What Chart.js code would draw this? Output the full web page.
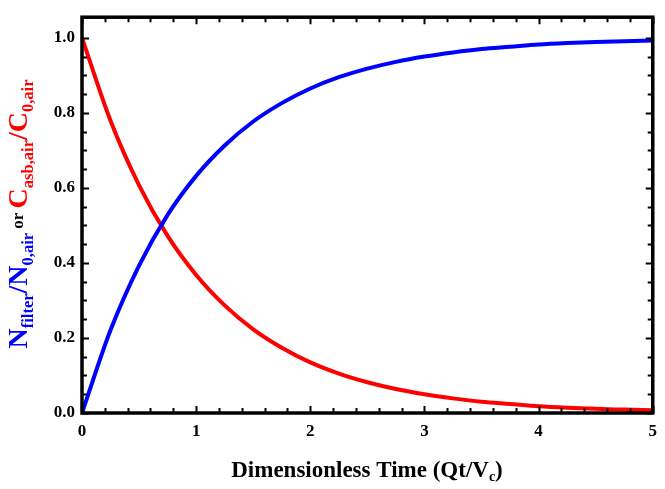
<!DOCTYPE html>
<html>
<head>
<meta charset="utf-8">
<script src="https://cdn.jsdelivr.net/npm/chart.js@4/dist/chart.umd.min.js"></script>
<style>
  html, body { margin: 0; padding: 0; background: #fff; }
  #wrap { width: 665px; height: 489px; }
</style>
</head>
<body>
<div id="wrap"><canvas id="chart" width="665" height="489"></canvas></div>
<script>
// time values (Qt/Vc)
const times = [0, 0.25, 0.5, 0.75, 1, 1.25, 1.5, 1.75, 2, 2.25, 2.5, 2.75, 3, 3.25, 3.5, 3.75, 4, 4.25, 4.5, 4.75, 5];
// blue curve: N_filter / N_0,air
const filterRatio = [0, 0.221, 0.393, 0.528, 0.632, 0.713, 0.777, 0.826, 0.865, 0.895, 0.918, 0.936, 0.95, 0.961, 0.97, 0.976, 0.982, 0.986, 0.989, 0.991, 0.993];
// red curve: C_asb,air / C_0,air
const airRatio = [1, 0.779, 0.607, 0.472, 0.368, 0.287, 0.223, 0.174, 0.135, 0.105, 0.082, 0.064, 0.05, 0.039, 0.03, 0.024, 0.018, 0.014, 0.011, 0.009, 0.007];
const xTickLabels = ["0", "1", "2", "3", "4", "5"];
const yTickLabels = ["0.0", "0.2", "0.4", "0.6", "0.8", "1.0"];

const SERIF = "'Liberation Serif', 'Times New Roman', serif";

function toPoints(xs, ys) {
  return xs.map((x, i) => ({ x: x, y: ys[i] }));
}

// frame + inward ticks, like the original plot
const framePlugin = {
  id: "frame",
  afterDatasetsDraw(chart) {
    const ctx = chart.ctx;
    const a = chart.chartArea;
    const xs = chart.scales.x;
    const ys = chart.scales.y;
    ctx.save();
    ctx.strokeStyle = "#000";
    ctx.lineWidth = 2;
    for (let v = 0; v <= 5.0001; v += 0.2) {
      const px = Math.round(xs.getPixelForValue(v)) + 0.5;
      const len = Math.abs(v - Math.round(v)) < 1e-6 ? 7 : 5;
      ctx.beginPath();
      ctx.moveTo(px, a.bottom);
      ctx.lineTo(px, a.bottom - len);
      ctx.moveTo(px, a.top);
      ctx.lineTo(px, a.top + len);
      ctx.stroke();
    }
    for (let v = 0; v <= 1.0001; v += 0.05) {
      const py = Math.round(ys.getPixelForValue(v)) + 0.5;
      const major = Math.abs(v * 5 - Math.round(v * 5)) < 1e-6;
      const len = major ? 7 : 5;
      ctx.beginPath();
      ctx.moveTo(a.left, py);
      ctx.lineTo(a.left + len, py);
      ctx.moveTo(a.right, py);
      ctx.lineTo(a.right - len, py);
      ctx.stroke();
    }
    ctx.lineWidth = 3.5;
    ctx.strokeRect(a.left, a.top, a.right - a.left, a.bottom - a.top);
    ctx.restore();
  },
};

// draws a run of text pieces (with subscripts) centred on x
function drawRuns(ctx, runs, x, y) {
  let total = 0;
  runs.forEach((r) => {
    ctx.font = "bold " + r.size + "px " + SERIF;
    r.w = ctx.measureText(r.text).width;
    total += r.w;
  });
  let cx = x - total / 2;
  runs.forEach((r) => {
    ctx.font = "bold " + r.size + "px " + SERIF;
    ctx.fillStyle = r.color;
    ctx.fillText(r.text, cx, y + (r.shift || 0));
    cx += r.w;
  });
}

const titlePlugin = {
  id: "titles",
  afterDraw(chart) {
    const ctx = chart.ctx;
    ctx.save();
    ctx.textBaseline = "alphabetic";
    ctx.textAlign = "left";
    drawRuns(
      ctx,
      [
        { text: "Dimensionless Time (Qt/V", size: 23, color: "#000" },
        { text: "c", size: 14, color: "#000", shift: 4 },
        { text: ")", size: 23, color: "#000" },
      ],
      367,
      477
    );
    ctx.translate(27, 214);
    ctx.rotate(-Math.PI / 2);
    const blue = "#0000ff";
    const red = "#ff0000";
    drawRuns(
      ctx,
      [
        { text: "N", size: 28, color: blue },
        { text: "filter", size: 16.5, color: blue, shift: 6 },
        { text: "/N", size: 28, color: blue },
        { text: "0,air", size: 16.5, color: blue, shift: 6 },
        { text: " or ", size: 17, color: "#000", shift: -4 },
        { text: "C", size: 28, color: red },
        { text: "asb,air", size: 16.5, color: red, shift: 6 },
        { text: "/C", size: 28, color: red },
        { text: "0,air", size: 16.5, color: red, shift: 6 },
      ],
      0,
      0
    );
    ctx.restore();
  },
};

new Chart(document.getElementById("chart"), {
  type: "line",
  data: {
    datasets: [
      {
        label: "N_filter/N_0,air",
        data: toPoints(times, filterRatio),
        borderColor: "#0000ff",
        borderWidth: 4,
        pointRadius: 0,
        cubicInterpolationMode: "monotone",
      },
      {
        label: "C_asb,air/C_0,air",
        data: toPoints(times, airRatio),
        borderColor: "#ff0000",
        borderWidth: 4,
        pointRadius: 0,
        cubicInterpolationMode: "monotone",
      },
    ],
  },
  options: {
    responsive: false,
    animation: false,
    layout: { padding: { top: 7, right: 2, left: 0, bottom: 0 } },
    plugins: {
      legend: { display: false },
      tooltip: { enabled: false },
    },
    scales: {
      x: {
        type: "linear",
        min: 0,
        max: 5,
        grid: { display: false, drawTicks: false },
        border: { display: false },
        ticks: {
          stepSize: 1,
          padding: 8,
          color: "#000",
          font: { family: SERIF, size: 17, weight: "bold" },
          callback: (v) => xTickLabels[Math.round(v)],
        },
        afterFit: (s) => { s.height = 76; },
      },
      y: {
        min: 0,
        max: 1.055,
        grid: { display: false, drawTicks: false },
        border: { display: false },
        ticks: {
          stepSize: 0.2,
          includeBounds: false,
          padding: 7,
          color: "#000",
          font: { family: SERIF, size: 17, weight: "bold" },
          callback: (v) => {
            const k = Math.round(v * 5);
            return Math.abs(v * 5 - k) < 1e-6 ? yTickLabels[k] : "";
          },
        },
        afterFit: (s) => { s.width = 82; },
      },
    },
  },
  plugins: [framePlugin, titlePlugin],
});
</script>
</body>
</html>
